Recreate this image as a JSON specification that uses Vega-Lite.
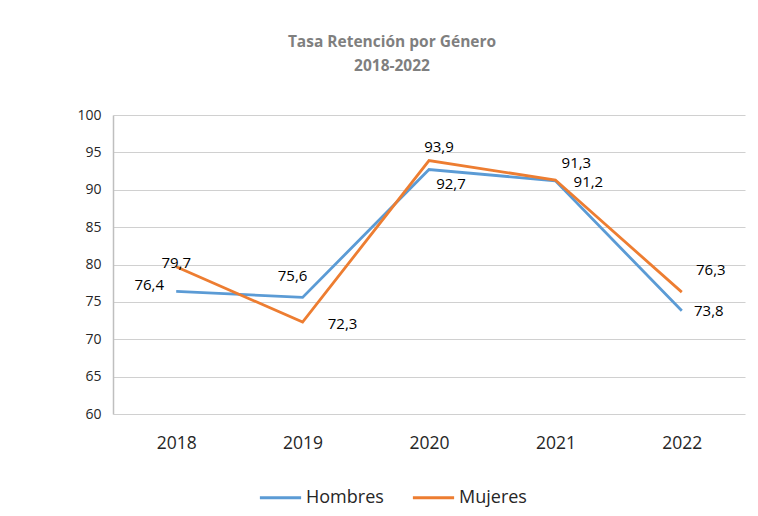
{
  "$schema": "https://vega.github.io/schema/vega-lite/v6.json",
  "width": 632,
  "height": 299,
  "autosize": {"type": "none"},
  "padding": {"left": 113, "top": 115, "right": 13, "bottom": 102},
  "background": "white",
  "config": {
    "font": "Open Sans",
    "view": {"stroke": null}
  },
  "title": {
    "text": ["Tasa Retención por Género", "2018-2022"],
    "anchor": "middle",
    "frame": "group",
    "dx": -37,
    "offset": 34,
    "fontSize": 15.5,
    "fontWeight": "bold",
    "color": "#7f7f7f",
    "lineHeight": 24,
    "font": "Open Sans"
  },
  "data": {
    "values": [
      {"year": "2018", "serie": "Hombres", "valor": 76.4, "label": "76,4"},
      {"year": "2019", "serie": "Hombres", "valor": 75.6, "label": "75,6"},
      {"year": "2020", "serie": "Hombres", "valor": 92.7, "label": "92,7"},
      {"year": "2021", "serie": "Hombres", "valor": 91.2, "label": "91,2"},
      {"year": "2022", "serie": "Hombres", "valor": 73.8, "label": "73,8"},
      {"year": "2018", "serie": "Mujeres", "valor": 79.7, "label": "79,7"},
      {"year": "2019", "serie": "Mujeres", "valor": 72.3, "label": "72,3"},
      {"year": "2020", "serie": "Mujeres", "valor": 93.9, "label": "93,9"},
      {"year": "2021", "serie": "Mujeres", "valor": 91.3, "label": "91,3"},
      {"year": "2022", "serie": "Mujeres", "valor": 76.3, "label": "76,3"}
    ]
  },
  "encoding": {
    "x": {
      "field": "year", "type": "ordinal",
      "scale": {"type": "point", "padding": 0.5},
      "axis": {
        "title": null, "labelAngle": 0, "ticks": false, "domain": false, "grid": false,
        "labelFontSize": 17.5, "labelColor": "#262626", "labelPadding": 20
      }
    },
    "y": {
      "field": "valor", "type": "quantitative",
      "scale": {"domain": [60, 100], "nice": false, "zero": false},
      "axis": {
        "title": null, "values": [60, 65, 70, 75, 80, 85, 90, 95, 100],
        "ticks": false, "domain": true, "domainColor": "#bfbfbf", "domainWidth": 1.5,
        "grid": true, "gridColor": "#d0d0d0", "gridWidth": 1.2,
        "labelFontSize": 14, "labelColor": "#262626", "labelPadding": 12
      }
    }
  },
  "layer": [
    {
      "mark": {"type": "line", "strokeWidth": 2.8},
      "encoding": {
        "color": {
          "field": "serie", "type": "nominal",
          "scale": {"domain": ["Hombres", "Mujeres"], "range": ["#5B9BD5", "#ED7D31"]},
          "legend": {
            "title": null, "orient": "none", "direction": "horizontal",
            "legendX": 145, "legendY": 360,
            "symbolType": "stroke", "symbolStrokeWidth": 3, "symbolSize": 1700,
            "labelFontSize": 18, "labelColor": "#262626", "columnPadding": 22,
            "labelOffset": 3
          }
        }
      }
    },
    {"transform": [{"filter": "datum.serie == 'Hombres' && datum.year == '2018'"}],
     "mark": {"type": "text", "fontSize": 15, "color": "#000", "dx": -27, "dy": -6},
     "encoding": {"text": {"field": "label"}}},
    {"transform": [{"filter": "datum.serie == 'Hombres' && datum.year == '2019'"}],
     "mark": {"type": "text", "fontSize": 15, "color": "#000", "dx": -10, "dy": -21},
     "encoding": {"text": {"field": "label"}}},
    {"transform": [{"filter": "datum.serie == 'Hombres' && datum.year == '2020'"}],
     "mark": {"type": "text", "fontSize": 15, "color": "#000", "dx": 22, "dy": 14},
     "encoding": {"text": {"field": "label"}}},
    {"transform": [{"filter": "datum.serie == 'Hombres' && datum.year == '2021'"}],
     "mark": {"type": "text", "fontSize": 15, "color": "#000", "dx": 33, "dy": 1},
     "encoding": {"text": {"field": "label"}}},
    {"transform": [{"filter": "datum.serie == 'Hombres' && datum.year == '2022'"}],
     "mark": {"type": "text", "fontSize": 15, "color": "#000", "dx": 27, "dy": 0},
     "encoding": {"text": {"field": "label"}}},
    {"transform": [{"filter": "datum.serie == 'Mujeres' && datum.year == '2018'"}],
     "mark": {"type": "text", "fontSize": 15, "color": "#000", "dx": 0, "dy": -4},
     "encoding": {"text": {"field": "label"}}},
    {"transform": [{"filter": "datum.serie == 'Mujeres' && datum.year == '2019'"}],
     "mark": {"type": "text", "fontSize": 15, "color": "#000", "dx": 40, "dy": 2},
     "encoding": {"text": {"field": "label"}}},
    {"transform": [{"filter": "datum.serie == 'Mujeres' && datum.year == '2020'"}],
     "mark": {"type": "text", "fontSize": 15, "color": "#000", "dx": 10, "dy": -14},
     "encoding": {"text": {"field": "label"}}},
    {"transform": [{"filter": "datum.serie == 'Mujeres' && datum.year == '2021'"}],
     "mark": {"type": "text", "fontSize": 15, "color": "#000", "dx": 21, "dy": -17},
     "encoding": {"text": {"field": "label"}}},
    {"transform": [{"filter": "datum.serie == 'Mujeres' && datum.year == '2022'"}],
     "mark": {"type": "text", "fontSize": 15, "color": "#000", "dx": 29, "dy": -22},
     "encoding": {"text": {"field": "label"}}}
  ]
}
